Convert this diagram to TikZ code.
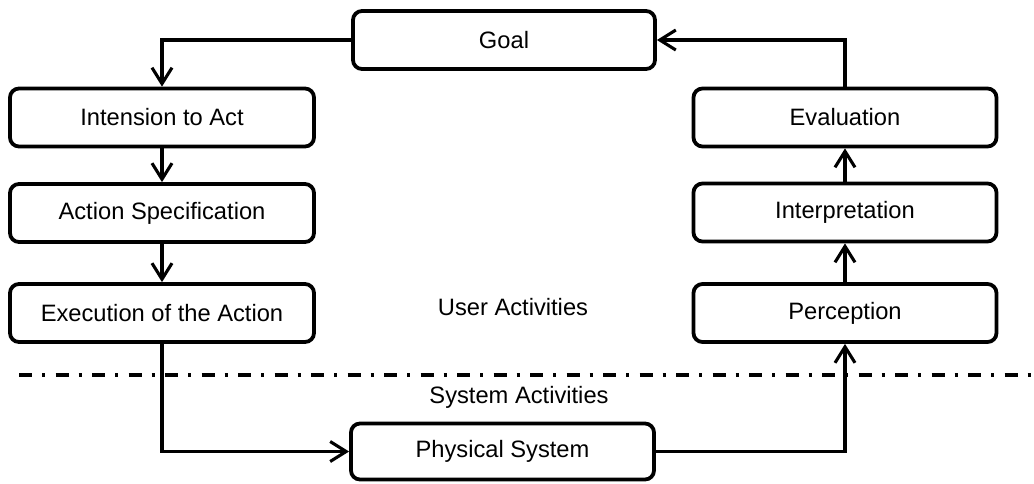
\documentclass[tikz,border=0pt]{standalone}
\usepackage{fontspec}
\setmainfont{Liberation Sans}
\usetikzlibrary{arrows.meta}

\tikzset{
  stage/.style={draw, line width=3.8pt, rounded corners=9pt, align=center,
    inner sep=0pt, font=\fontsize{23.7}{28}\selectfont},
  leftstage/.style={stage, minimum width=304pt, minimum height=58pt},
  rightstage/.style={stage, minimum width=303pt, minimum height=58pt},
  flow/.style={line width=3.1pt, -{Straight Barb[length=16pt,width=20pt,line width=3.1pt]}},
  caption/.style={font=\fontsize{23.7}{28}\selectfont, inner sep=0pt},
  divider/.style={line width=3.4pt, dash pattern=on 13pt off 10pt on 3pt off 10.5pt}
}

\begin{document}
\begin{tikzpicture}[x=1pt, y=-1pt]
  \useasboundingbox (0,0) rectangle (1034,483);

  % stages of the action cycle
  \node[stage, minimum width=302pt, minimum height=58pt] (goal) at (504,40) {Goal};
  \node[leftstage] (intent) at (162,117.5) {Intension to Act};
  \node[leftstage] (spec) at (162,213) {Action Specification};
  \node[leftstage] (exec) at (162,313) {Execution of the Action};
  \node[rightstage] (eval) at (845,117.5) {Evaluation};
  \node[rightstage] (interp) at (845,212.5) {Interpretation};
  \node[rightstage] (percep) at (845,313) {Perception};
  \node[stage, minimum width=303pt, minimum height=56pt] (phys) at (502.5,451.5) {Physical System};

  % boundary between user and system
  \coordinate (divL) at (19,375);
  \coordinate (divR) at (1034,375);
  \draw[divider] (divL) -- (divR);
  \node[caption] (user) at (513,307) {User Activities};
  \node[caption] (sys) at (519,397) {System Activities};

  % gulf of execution
  \draw[flow] (goal.west) -| (intent.north);
  \draw[flow] (intent.south) -- (spec.north);
  \draw[flow] (spec.south) -- (exec.north);
  \draw[flow] (exec.south) |- (phys.west);

  % gulf of evaluation
  \draw[flow] (phys.east) -| (percep.south);
  \draw[flow] (percep.north) -- (interp.south);
  \draw[flow] (interp.north) -- (eval.south);
  \draw[flow] (eval.north) |- (goal.east);
\end{tikzpicture}
\end{document}
